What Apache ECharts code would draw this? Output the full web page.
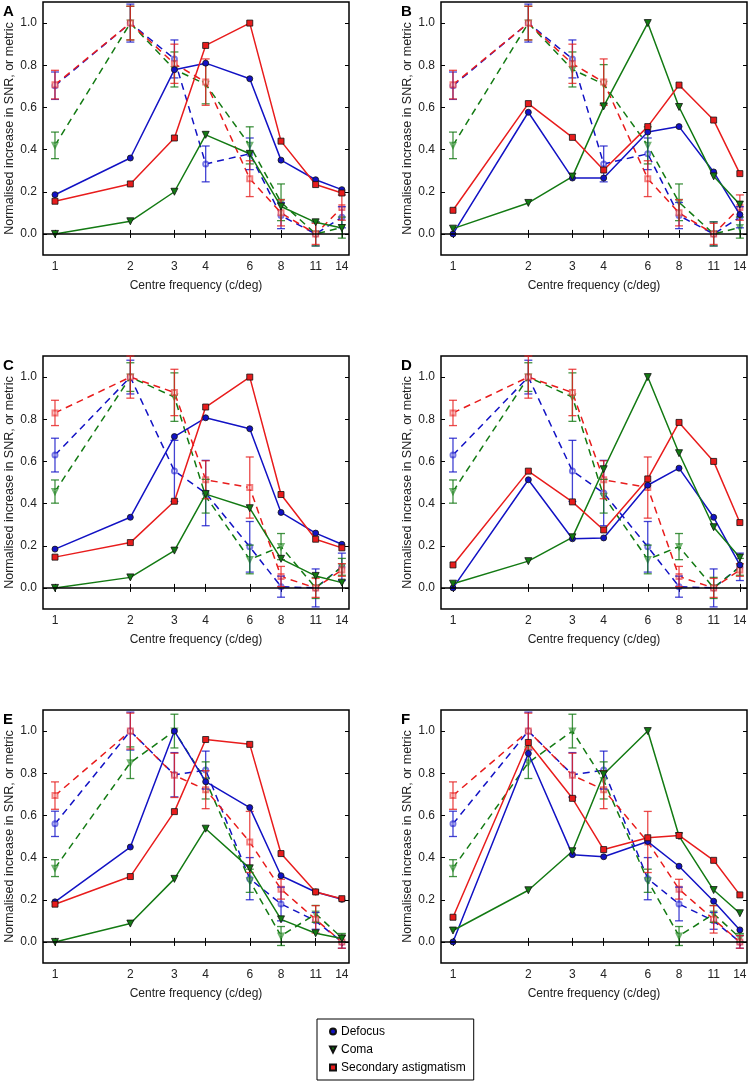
<!DOCTYPE html>
<html>
<head>
<meta charset="utf-8">
<script src="https://cdn.jsdelivr.net/npm/echarts@6/dist/echarts.min.js"></script>
<style>
  html, body { margin: 0; padding: 0; background: #fff; }
  #chart { width: 750px; height: 1081px; }
</style>
</head>
<body>
<div id="chart"></div>
<script>
// centre frequencies (c/deg) and axis ticks
const freqs = [1, 2, 3, 4, 6, 8, 11, 14];
const xTicks = [1, 2, 3, 4, 6, 8, 11, 14];
const yTicks = [0, 0.2, 0.4, 0.6, 0.8, 1.0];

// model metrics (solid lines)
const defocusA = [0.186, 0.36, 0.779, 0.81, 0.736, 0.35, 0.257, 0.21];
const comaA = [0.0, 0.06, 0.2, 0.47, 0.38, 0.13, 0.055, 0.028];
const astigA = [0.155, 0.237, 0.455, 0.894, 1.0, 0.44, 0.234, 0.194];
const defocusB = [0.0, 0.577, 0.265, 0.265, 0.483, 0.509, 0.294, 0.092];
const comaB = [0.025, 0.147, 0.272, 0.605, 1.0, 0.602, 0.273, 0.139];
const astigB = [0.112, 0.618, 0.458, 0.303, 0.509, 0.706, 0.54, 0.286];
const defocusC = [0.184, 0.335, 0.718, 0.807, 0.755, 0.358, 0.26, 0.207];
const comaC = [0.0, 0.05, 0.177, 0.445, 0.378, 0.138, 0.057, 0.025];
const astigC = [0.146, 0.215, 0.411, 0.858, 1.0, 0.443, 0.231, 0.19];
const defocusD = [0.0, 0.513, 0.233, 0.237, 0.487, 0.568, 0.335, 0.109];
const comaD = [0.02, 0.127, 0.24, 0.563, 1.0, 0.639, 0.288, 0.144];
const astigD = [0.109, 0.554, 0.408, 0.275, 0.517, 0.785, 0.6, 0.31];
const defocusE = [0.19, 0.45, 1.0, 0.76, 0.637, 0.314, 0.237, 0.202];
const comaE = [0.0, 0.087, 0.299, 0.537, 0.349, 0.107, 0.041, 0.016];
const astigE = [0.179, 0.31, 0.618, 0.96, 0.937, 0.419, 0.237, 0.205];
const defocusF = [0.0, 0.894, 0.414, 0.404, 0.476, 0.359, 0.193, 0.057];
const comaF = [0.054, 0.245, 0.43, 0.795, 1.0, 0.502, 0.246, 0.136];
const astigF = [0.117, 0.946, 0.681, 0.438, 0.494, 0.505, 0.387, 0.223];

// human data (dashed lines) with error half-widths, shared by each row
const humanDefocusAB = [0.703, 1.0, 0.83, 0.332, 0.38, 0.087, 0.0, 0.079];
const humanDefocusABErr = [0.065, 0.09, 0.09, 0.085, 0.075, 0.062, 0.057, 0.05];
const humanComaAB = [0.42, 1.0, 0.78, 0.71, 0.42, 0.15, 0.0, 0.03];
const humanComaABErr = [0.063, 0.08, 0.083, 0.093, 0.088, 0.087, 0.057, 0.05];
const humanAstigAB = [0.708, 1.0, 0.807, 0.72, 0.262, 0.1, 0.0, 0.125];
const humanAstigABErr = [0.068, 0.08, 0.093, 0.11, 0.085, 0.062, 0.05, 0.06];

const humanDefocusCD = [0.63, 1.0, 0.555, 0.45, 0.195, 0.006, 0.0, 0.1];
const humanDefocusCDErr = [0.08, 0.08, 0.145, 0.155, 0.12, 0.05, 0.09, 0.065];
const humanComaCD = [0.457, 1.0, 0.905, 0.435, 0.135, 0.196, 0.0, 0.1];
const humanComaCDErr = [0.055, 0.068, 0.115, 0.08, 0.068, 0.062, 0.05, 0.04];
const humanAstigCD = [0.83, 1.0, 0.927, 0.513, 0.476, 0.054, 0.0, 0.085];
const humanAstigCDErr = [0.06, 0.1, 0.11, 0.09, 0.145, 0.048, 0.045, 0.03];

const humanDefocusEF = [0.56, 1.0, 0.793, 0.815, 0.3, 0.18, 0.1, 0.0];
const humanDefocusEFErr = [0.06, 0.09, 0.105, 0.09, 0.1, 0.08, 0.04, 0.03];
const humanComaEF = [0.35, 0.85, 1.0, 0.766, 0.29, 0.028, 0.133, 0.02];
const humanComaEFErr = [0.04, 0.075, 0.08, 0.088, 0.055, 0.045, 0.04, 0.02];
const humanAstigEF = [0.694, 1.0, 0.79, 0.722, 0.474, 0.25, 0.107, 0.0];
const humanAstigEFErr = [0.065, 0.085, 0.105, 0.09, 0.145, 0.047, 0.065, 0.03];

const names = ["Defocus", "Coma", "Secondary astigmatism"];
const colors = ["#1212c4", "#137a13", "#e81c1c"];
const lightColors = ["rgba(30,30,210,0.6)", "rgba(20,130,20,0.6)", "rgba(235,40,40,0.6)"];
const barColors = ["rgba(20,20,200,0.8)", "rgba(20,120,20,0.8)", "rgba(230,30,30,0.8)"];
const solidSymbols = ["circle", "triangle", "rect"];
const openSymbols = ["emptyCircle", "emptyTriangle", "emptyRect"];

const panels = [
  { label: "A", left: 43, top: 2, model: [defocusA, comaA, astigA],
    human: [humanDefocusAB, humanComaAB, humanAstigAB], err: [humanDefocusABErr, humanComaABErr, humanAstigABErr] },
  { label: "B", left: 441, top: 2, model: [defocusB, comaB, astigB],
    human: [humanDefocusAB, humanComaAB, humanAstigAB], err: [humanDefocusABErr, humanComaABErr, humanAstigABErr] },
  { label: "C", left: 43, top: 356, model: [defocusC, comaC, astigC],
    human: [humanDefocusCD, humanComaCD, humanAstigCD], err: [humanDefocusCDErr, humanComaCDErr, humanAstigCDErr] },
  { label: "D", left: 441, top: 356, model: [defocusD, comaD, astigD],
    human: [humanDefocusCD, humanComaCD, humanAstigCD], err: [humanDefocusCDErr, humanComaCDErr, humanAstigCDErr] },
  { label: "E", left: 43, top: 710, model: [defocusE, comaE, astigE],
    human: [humanDefocusEF, humanComaEF, humanAstigEF], err: [humanDefocusEFErr, humanComaEFErr, humanAstigEFErr] },
  { label: "F", left: 441, top: 710, model: [defocusF, comaF, astigF],
    human: [humanDefocusEF, humanComaEF, humanAstigEF], err: [humanDefocusEFErr, humanComaEFErr, humanAstigEFErr] }
];

const font = "'Liberation Sans', Arial, sans-serif";

const errorBarItem = (params, api) => {
  const x = api.value(0);
  const lo = api.coord([x, api.value(1)]);
  const hi = api.coord([x, api.value(2)]);
  const w = 4;
  const style = { stroke: api.visual("color"), lineWidth: 1.3 };
  return {
    type: "group",
    children: [
      { type: "line", shape: { x1: lo[0], y1: lo[1], x2: hi[0], y2: hi[1] }, style },
      { type: "line", shape: { x1: lo[0] - w, y1: lo[1], x2: lo[0] + w, y2: lo[1] }, style },
      { type: "line", shape: { x1: hi[0] - w, y1: hi[1], x2: hi[0] + w, y2: hi[1] }, style }
    ]
  };
};

const grids = [];
const xAxes = [];
const yAxes = [];
const titles = [];
const series = [];

panels.forEach((p, i) => {
  grids.push({
    left: p.left, top: p.top, width: 306, height: 253,
    show: true, borderColor: "#000", borderWidth: 1.5, backgroundColor: "transparent"
  });
  titles.push({
    text: p.label, left: p.left - 40, top: p.top + 2, padding: 0,
    textStyle: { fontSize: 15, fontWeight: "bold", color: "#000", fontFamily: font }
  });
  ["bottom", "top"].forEach(pos => {
    xAxes.push({
      type: "log", gridIndex: i, position: pos, min: 0.8956, max: 14.95,
      name: pos === "bottom" ? "Centre frequency (c/deg)" : "",
      nameLocation: "middle", nameGap: 25,
      nameTextStyle: { color: "#222", fontSize: 12, fontFamily: font },
      axisLine: { show: false },
      axisTick: { inside: true, length: 4, customValues: xTicks, lineStyle: { color: "#000" } },
      axisLabel: { show: pos === "bottom", customValues: xTicks, margin: 6, color: "#222", fontSize: 12, fontFamily: font },
      minorTick: { show: false },
      splitLine: { show: false }
    });
  });
  ["left", "right"].forEach(pos => {
    yAxes.push({
      type: "value", gridIndex: i, position: pos, min: -0.1, max: 1.1,
      name: pos === "left" ? "Normalised increase in SNR, or metric" : "",
      nameLocation: "middle", nameGap: 27,
      nameTextStyle: { color: "#222", fontSize: 12.5, fontFamily: font },
      axisLine: { show: false },
      axisTick: { inside: true, length: 4, customValues: yTicks, lineStyle: { color: "#000" } },
      axisLabel: {
        show: pos === "left", customValues: yTicks, margin: 6, color: "#222", fontSize: 12, fontFamily: font,
        formatter: v => v.toFixed(1)
      },
      splitLine: { show: false }
    });
  });
  const xi = i * 2;
  const yi = i * 2;
  // human data: dashed lines, open markers, error bars
  p.human.forEach((vals, k) => {
    series.push({
      name: "human " + names[k], type: "line", xAxisIndex: xi, yAxisIndex: yi,
      data: freqs.map((f, j) => [f, vals[j]]),
      symbol: openSymbols[k], symbolSize: 5, symbolRotate: k === 1 ? 180 : 0,
      lineStyle: { color: colors[k], width: 1.5, type: [7, 5] },
      itemStyle: { color: lightColors[k], borderWidth: 1 },
      z: 2,
      markLine: k === 0 ? {
        silent: true, symbol: "none", label: { show: false },
        lineStyle: { color: "#000", type: "solid", width: 1.5 },
        data: [{ yAxis: 0 }]
      } : undefined
    });
    series.push({
      name: "err " + names[k], type: "custom", xAxisIndex: xi, yAxisIndex: yi,
      renderItem: errorBarItem,
      itemStyle: { color: barColors[k] },
      encode: { x: 0, y: [1, 2] },
      data: freqs.map((f, j) => [f, vals[j] - p.err[k][j], vals[j] + p.err[k][j]]),
      z: 3
    });
  });
  // model metrics: solid lines, filled markers
  p.model.forEach((vals, k) => {
    series.push({
      name: names[k], type: "line", xAxisIndex: xi, yAxisIndex: yi,
      data: freqs.map((f, j) => [f, vals[j]]),
      symbol: solidSymbols[k], symbolSize: k === 1 ? 7 : 6, symbolRotate: k === 1 ? 180 : 0,
      lineStyle: { color: colors[k], width: 1.5 },
      itemStyle: { color: colors[k], borderColor: "#111", borderWidth: 0.8 },
      z: 4
    });
  });
});

const chart = echarts.init(document.getElementById("chart"), null, { renderer: "canvas" });
chart.setOption({
  animation: false,
  backgroundColor: "#fff",
  title: titles,
  grid: grids,
  xAxis: xAxes,
  yAxis: yAxes,
  legend: {
    left: 317, top: 1019, orient: "vertical",
    borderColor: "#000", borderWidth: 1, padding: [6, 8, 6, 12],
    itemWidth: 6, itemHeight: 6, itemGap: 5,
    textStyle: { fontSize: 12, lineHeight: 13, color: "#000", fontFamily: font },
    data: [
      { name: "Defocus", icon: "circle" },
      { name: "Coma", icon: "path://M0,0L10,0L5,10Z" },
      { name: "Secondary astigmatism", icon: "rect" }
    ]
  },
  series: series
});
</script>
</body>
</html>
